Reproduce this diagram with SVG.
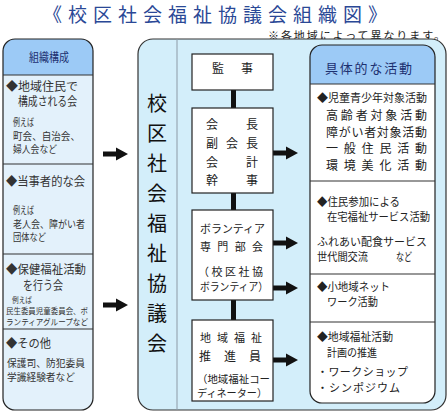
<svg xmlns="http://www.w3.org/2000/svg" xmlns:xlink="http://www.w3.org/1999/xlink" width="448" height="412" viewBox="0 0 448 412">
<style>
text{font-family:"Noto Sans CJK JP","Noto Sans",sans-serif;fill:#222}
.t12{font-size:12px}
.t11{font-size:11px}
.t10{font-size:10px}
.t9{font-size:8.5px}
.lb{fill:#333}
.hd{fill:#1d3070;font-size:12px}
.vt{font-size:20px;text-anchor:middle;fill:#111}
.mid{text-anchor:middle}
.box{fill:#fff;stroke:#222;stroke-width:1.2}
.div{stroke:#333;stroke-width:1.2}
</style>
<defs>
<path id="arr" d="M0,-2.5 H13 V-6.5 L25,0 L13,6.5 V2.5 H0 Z" fill="#111"/>
</defs>
<rect width="448" height="412" fill="#fff"/>
<text x="43" y="22.2" style="font-size:19px;fill:#2a4896" textLength="344" lengthAdjust="spacing">《校区社会福祉協議会組織図》</text>
<text x="268" y="39.5" style="font-size:11px" textLength="177" lengthAdjust="spacing">※各地域によって異なります。</text>

<g id="left-panel">
<path d="M15,39 H81 A12,12 0 0 1 93,51 V398 A12,12 0 0 1 81,410 H15 A12,12 0 0 1 3,398 V51 A12,12 0 0 1 15,39 Z" fill="#e3f1fb"/>
<path d="M15,39 H81 A12,12 0 0 1 93,51 V75 H3 V51 A12,12 0 0 1 15,39 Z" fill="#9ccaf6"/>
<path d="M15,39 H81 A12,12 0 0 1 93,51 V398 A12,12 0 0 1 81,410 H15 A12,12 0 0 1 3,398 V51 A12,12 0 0 1 15,39 Z" fill="none" stroke="#222" stroke-width="1.2"/>
<line class="div" x1="3" y1="75" x2="93" y2="75"/>
<line class="div" x1="3" y1="164" x2="93" y2="164"/>
<line class="div" x1="3" y1="254" x2="93" y2="254"/>
<line class="div" x1="3" y1="329" x2="93" y2="329"/>
<text x="29" y="62" class="hd" textLength="40" lengthAdjust="spacingAndGlyphs">組織構成</text>
<text x="6" y="91" class="t12 lb" textLength="72" lengthAdjust="spacingAndGlyphs">◆地域住民で</text>
<text x="18" y="106" class="t12 lb" textLength="59" lengthAdjust="spacingAndGlyphs">構成される会</text>
<text x="13" y="126" class="t10 lb" textLength="21" lengthAdjust="spacingAndGlyphs">例えば</text>
<text x="13" y="139.5" class="t10 lb" textLength="67" lengthAdjust="spacingAndGlyphs">町会、自治会、</text>
<text x="13" y="153" class="t10 lb" textLength="44" lengthAdjust="spacingAndGlyphs">婦人会など</text>
<text x="6" y="185.5" class="t12 lb" textLength="79" lengthAdjust="spacingAndGlyphs">◆当事者的な会</text>
<text x="13" y="214" class="t10 lb" textLength="21" lengthAdjust="spacingAndGlyphs">例えば</text>
<text x="13" y="227.5" class="t10 lb" textLength="72" lengthAdjust="spacingAndGlyphs">老人会、障がい者</text>
<text x="13" y="241" class="t10 lb" textLength="33" lengthAdjust="spacingAndGlyphs">団体など</text>
<text x="6" y="273.5" class="t12 lb" textLength="80" lengthAdjust="spacingAndGlyphs">◆保健福祉活動</text>
<text x="23" y="290" class="t12 lb" textLength="40" lengthAdjust="spacingAndGlyphs">を行う会</text>
<text x="12" y="302.5" class="t9 lb" textLength="20" lengthAdjust="spacingAndGlyphs">例えば</text>
<text x="6" y="313.5" class="t9 lb" textLength="82" lengthAdjust="spacingAndGlyphs">民生委員児童委員会、ボ</text>
<text x="6" y="324.5" class="t9 lb" textLength="82" lengthAdjust="spacingAndGlyphs">ランティアグループなど</text>
<text x="6" y="347.5" class="t12 lb" textLength="45" lengthAdjust="spacingAndGlyphs">◆その他</text>
<text x="7" y="367" class="t10 lb" textLength="78" lengthAdjust="spacingAndGlyphs">保護司、防犯委員</text>
<text x="7" y="380.5" class="t10 lb" textLength="68" lengthAdjust="spacingAndGlyphs">学識経験者など</text>
</g>

<g id="council-panel">
<path d="M153,39 H431 A15,15 0 0 1 446,54 V395 A15,15 0 0 1 431,410 H153 A15,15 0 0 1 138,395 V54 A15,15 0 0 1 153,39 Z" fill="#d3eefa" stroke="#333" stroke-width="1.2"/>
<line x1="177" y1="39" x2="177" y2="410" stroke="#8d9aa6" stroke-width="1"/>
<text class="vt" x="157" y="110.5">校</text>
<text class="vt" x="157" y="140.5">区</text>
<text class="vt" x="157" y="170.5">社</text>
<text class="vt" x="157" y="200.5">会</text>
<text class="vt" x="157" y="230.5">福</text>
<text class="vt" x="157" y="260.5">祉</text>
<text class="vt" x="157" y="290.5">協</text>
<text class="vt" x="157" y="320.5">議</text>
<text class="vt" x="157" y="350.5">会</text>
</g>

<g id="connectors">
<rect x="231" y="90" width="5" height="18" fill="#111"/>
<rect x="231" y="193" width="5" height="17" fill="#111"/>
<rect x="231" y="300" width="5" height="20" fill="#111"/>
<use xlink:href="#arr" href="#arr" x="103" y="154"/>
<use xlink:href="#arr" href="#arr" x="103" y="305"/>
<use xlink:href="#arr" href="#arr" x="273" y="153"/>
<use xlink:href="#arr" href="#arr" x="273" y="243"/>
<use xlink:href="#arr" href="#arr" x="273" y="288"/>
<use xlink:href="#arr" href="#arr" x="273" y="360"/>
</g>

<g id="auditor">
<rect class="box" x="192" y="54" width="81" height="36"/>
<text class="t12 mid" x="218" y="72.5">監</text>
<text class="t12 mid" x="247" y="72.5">事</text>
</g>

<g id="officers">
<rect class="box" x="192" y="108" width="81" height="85"/>
<text class="t12 mid" x="212" y="128.5">会</text>
<text class="t12 mid" x="252" y="128.5">長</text>
<text class="t12 mid" x="212" y="147.5">副</text>
<text class="t12 mid" x="232" y="147.5">会</text>
<text class="t12 mid" x="252" y="147.5">長</text>
<text class="t12 mid" x="212" y="166.5">会</text>
<text class="t12 mid" x="252" y="166.5">計</text>
<text class="t12 mid" x="212" y="184.5">幹</text>
<text class="t12 mid" x="252" y="184.5">事</text>
</g>

<g id="volunteer">
<rect class="box" x="192" y="210" width="81" height="90"/>
<text class="t11" x="200" y="233" textLength="65" lengthAdjust="spacingAndGlyphs">ボランティア</text>
<text class="t11" x="200" y="251" textLength="63" lengthAdjust="spacing">専門部会</text>
<text class="t11" x="198" y="276" textLength="65" lengthAdjust="spacing">（校区社協</text>
<text class="t11" x="200" y="291" textLength="68" lengthAdjust="spacingAndGlyphs">ボランティア）</text>
</g>

<g id="promoter">
<rect class="box" x="192" y="320" width="81" height="81"/>
<text class="t11" x="200" y="342" textLength="62" lengthAdjust="spacing">地域福祉</text>
<text class="t12" x="199" y="361" textLength="62" lengthAdjust="spacing">推進員</text>
<text x="197" y="383" style="font-size:10.5px" textLength="73" lengthAdjust="spacingAndGlyphs">（地域福祉コー</text>
<text x="197" y="397" style="font-size:10.5px" textLength="70" lengthAdjust="spacingAndGlyphs">ディネーター）</text>
</g>

<g id="activities">
<path d="M322,45 H423 A12,12 0 0 1 435,57 V391 A12,12 0 0 1 423,403 H322 A12,12 0 0 1 310,391 V57 A12,12 0 0 1 322,45 Z" fill="#fff"/>
<path d="M322,45 H423 A12,12 0 0 1 435,57 V84 H310 V57 A12,12 0 0 1 322,45 Z" fill="#9ccaf6"/>
<path d="M322,45 H423 A12,12 0 0 1 435,57 V391 A12,12 0 0 1 423,403 H322 A12,12 0 0 1 310,391 V57 A12,12 0 0 1 322,45 Z" fill="none" stroke="#222" stroke-width="1.2"/>
<line class="div" x1="310" y1="84" x2="435" y2="84"/>
<line class="div" x1="310" y1="181" x2="435" y2="181"/>
<line class="div" x1="310" y1="274" x2="435" y2="274"/>
<line class="div" x1="310" y1="322" x2="435" y2="322"/>
<text x="325" y="72.5" style="font-size:13px;fill:#1d3070" textLength="87" lengthAdjust="spacing">具体的な活動</text>
<text class="t11" x="317" y="102" textLength="110" lengthAdjust="spacingAndGlyphs">◆児童青少年対象活動</text>
<text class="t12" x="326" y="119.5" textLength="101" lengthAdjust="spacing">高齢者対象活動</text>
<text class="t12" x="326" y="136.5" textLength="101" lengthAdjust="spacing">障がい者対象活動</text>
<text class="t12" x="326" y="152.5" textLength="101" lengthAdjust="spacing">一般住民活動</text>
<text class="t12" x="326" y="169.5" textLength="101" lengthAdjust="spacing">環境美化活動</text>
<text class="t11" x="317" y="206" textLength="83" lengthAdjust="spacingAndGlyphs">◆住民参加による</text>
<text class="t11" x="327" y="221" textLength="103" lengthAdjust="spacingAndGlyphs">在宅福祉サービス活動</text>
<text class="t11" x="317" y="246" textLength="110" lengthAdjust="spacingAndGlyphs">ふれあい配食サービス</text>
<text class="t11" x="317" y="261" textLength="51" lengthAdjust="spacingAndGlyphs">世代間交流</text>
<text class="t11" x="396" y="261" textLength="16" lengthAdjust="spacingAndGlyphs">など</text>
<text class="t11" x="317" y="291" textLength="73" lengthAdjust="spacingAndGlyphs">◆小地域ネット</text>
<text class="t11" x="327" y="306" textLength="51" lengthAdjust="spacingAndGlyphs">ワーク活動</text>
<text class="t11" x="317" y="341" textLength="76" lengthAdjust="spacingAndGlyphs">◆地域福祉活動</text>
<text class="t11" x="327" y="357" textLength="50" lengthAdjust="spacingAndGlyphs">計画の推進</text>
<text class="t11" x="317" y="376" textLength="91" lengthAdjust="spacing">・ワークショップ</text>
<text class="t11" x="317" y="392" textLength="83" lengthAdjust="spacing">・シンポジウム</text>
</g>
</svg>
